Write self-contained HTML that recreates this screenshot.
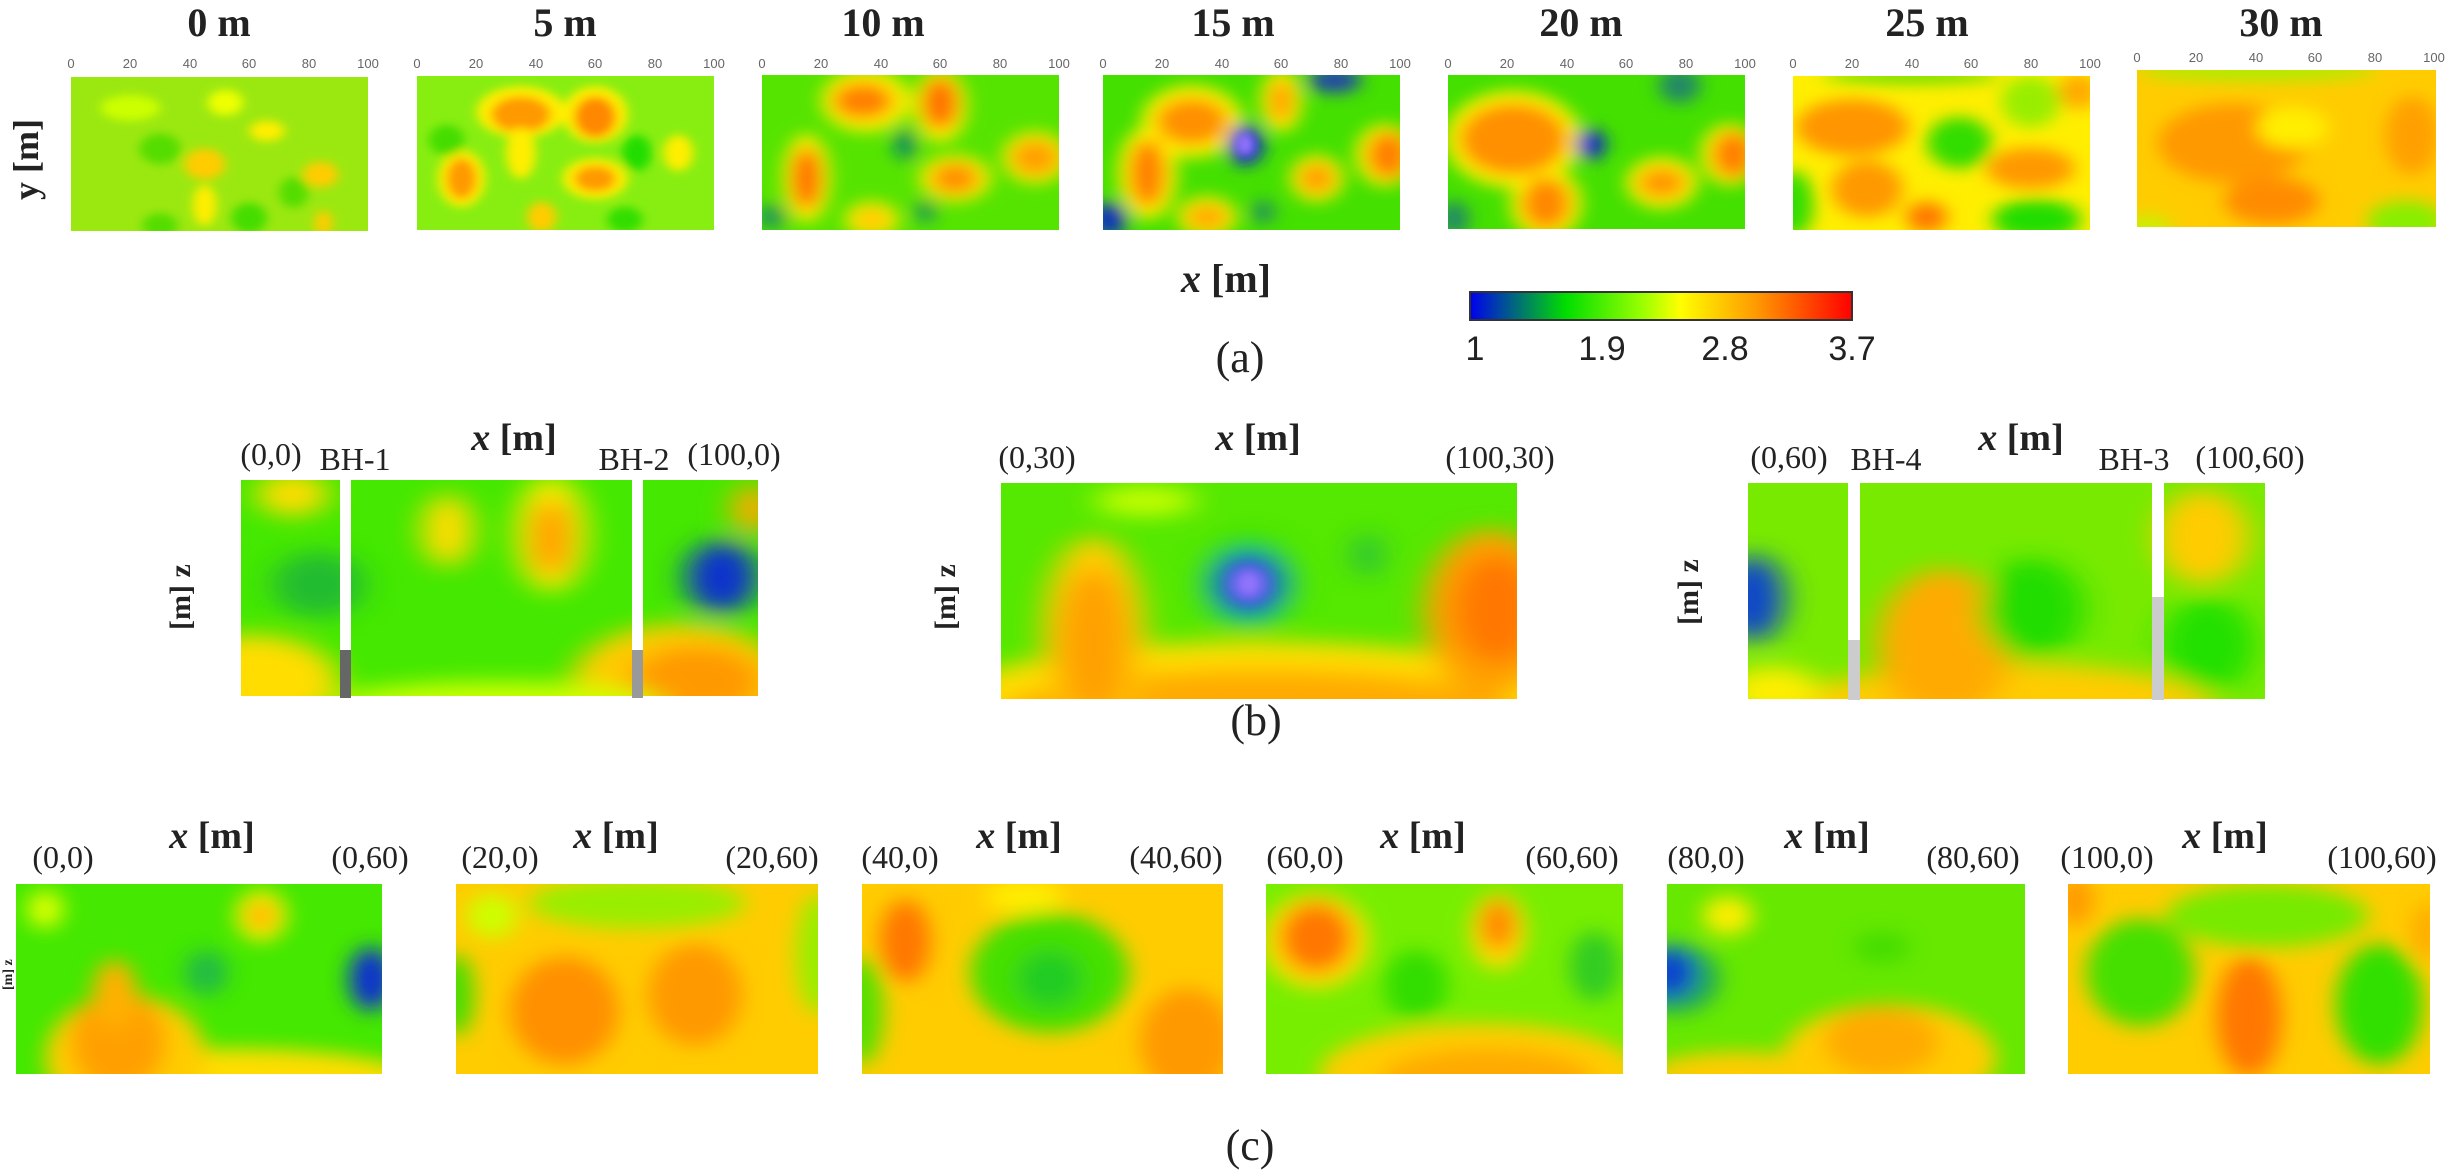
<!DOCTYPE html>
<html><head><meta charset="utf-8"><style>
html,body{margin:0;padding:0;background:#fff;}
svg{display:block;}
.t{font-family:"Liberation Serif",serif;fill:#222;}
.tk{font-family:"Liberation Sans",sans-serif;font-size:13px;fill:#666;text-anchor:middle;}
</style></head><body>
<svg width="2464" height="1176" viewBox="0 0 2464 1176" xmlns="http://www.w3.org/2000/svg">
<defs>
<filter id="b" x="-30%" y="-30%" width="160%" height="160%"><feGaussianBlur stdDeviation="3"/></filter>
<filter id="s" x="-30%" y="-30%" width="160%" height="160%"><feGaussianBlur stdDeviation="1.8"/></filter>
<linearGradient id="cb" x1="0" x2="1" y1="0" y2="0">
<stop offset="0" stop-color="#0000ee"/><stop offset="0.25" stop-color="#00dd00"/><stop offset="0.45" stop-color="#99ff00"/><stop offset="0.55" stop-color="#ffff00"/><stop offset="0.75" stop-color="#ff9900"/><stop offset="1" stop-color="#ff0000"/></linearGradient>
</defs>

<g class="t" font-size="40" text-anchor="middle" font-weight="bold">
<text x="219" y="36">0 m</text><text x="565" y="36">5 m</text><text x="883" y="36">10 m</text><text x="1233" y="36">15 m</text><text x="1581" y="36">20 m</text><text x="1927" y="36">25 m</text><text x="2281" y="36">30 m</text>
</g>
<text class="t" font-size="36" font-weight="bold" transform="translate(38,200) rotate(-90)">y [m]</text>

<g class="tk">
<text x="71" y="68">0</text><text x="130" y="68">20</text><text x="190" y="68">40</text><text x="249" y="68">60</text><text x="309" y="68">80</text><text x="368" y="68">100</text>
<text x="417" y="68">0</text><text x="476" y="68">20</text><text x="536" y="68">40</text><text x="595" y="68">60</text><text x="655" y="68">80</text><text x="714" y="68">100</text>
<text x="762" y="68">0</text><text x="821" y="68">20</text><text x="881" y="68">40</text><text x="940" y="68">60</text><text x="1000" y="68">80</text><text x="1059" y="68">100</text>
<text x="1103" y="68">0</text><text x="1162" y="68">20</text><text x="1222" y="68">40</text><text x="1281" y="68">60</text><text x="1341" y="68">80</text><text x="1400" y="68">100</text>
<text x="1448" y="68">0</text><text x="1507" y="68">20</text><text x="1567" y="68">40</text><text x="1626" y="68">60</text><text x="1686" y="68">80</text><text x="1745" y="68">100</text>
<text x="1793" y="68">0</text><text x="1852" y="68">20</text><text x="1912" y="68">40</text><text x="1971" y="68">60</text><text x="2031" y="68">80</text><text x="2090" y="68">100</text>
<text x="2137" y="62">0</text><text x="2196" y="62">20</text><text x="2256" y="62">40</text><text x="2315" y="62">60</text><text x="2375" y="62">80</text><text x="2434" y="62">100</text>
</g>

<!-- 0m -->
<svg x="71" y="77" width="297" height="154" viewBox="0 0 100 60" preserveAspectRatio="none">
<rect width="100" height="60" fill="#9be810"/><g filter="url(#s)">
<ellipse cx="20" cy="12" rx="10" ry="5" fill="#ccff00"/><ellipse cx="45" cy="34" rx="7" ry="6" fill="#ffcc00"/><ellipse cx="84" cy="38" rx="6" ry="5" fill="#ffcc00"/><ellipse cx="66" cy="21" rx="6" ry="4" fill="#ffee00"/><ellipse cx="45" cy="50" rx="4" ry="8" fill="#ffee00"/><ellipse cx="30" cy="28" rx="7" ry="6" fill="#55dd00"/><ellipse cx="60" cy="55" rx="6" ry="6" fill="#44dd00"/><ellipse cx="30" cy="58" rx="6" ry="5" fill="#55dd00"/><ellipse cx="52" cy="10" rx="6" ry="5" fill="#eeff00"/><ellipse cx="85" cy="57" rx="3" ry="5" fill="#ffcc00"/><ellipse cx="75" cy="45" rx="5" ry="6" fill="#55dd00"/></g></svg>
<!-- 5m -->
<svg x="417" y="76" width="297" height="154" viewBox="0 0 100 60" preserveAspectRatio="none">
<rect width="100" height="60" fill="#88ee11"/><g filter="url(#s)">
<ellipse cx="35" cy="14" rx="15" ry="10" fill="#ffee00"/><ellipse cx="60" cy="15" rx="11" ry="11" fill="#ffee00"/><ellipse cx="35" cy="15" rx="10" ry="7" fill="#ff9900"/><ellipse cx="60" cy="16" rx="7" ry="8" fill="#ff8800"/><ellipse cx="15" cy="40" rx="8" ry="11" fill="#ffee00"/><ellipse cx="15" cy="40" rx="5" ry="8" fill="#ff9900"/><ellipse cx="60" cy="40" rx="11" ry="8" fill="#ffee00"/><ellipse cx="60" cy="40" rx="7" ry="5" fill="#ff9900"/><ellipse cx="42" cy="55" rx="5" ry="6" fill="#ffcc00"/><ellipse cx="35" cy="30" rx="5" ry="10" fill="#ffee00"/><ellipse cx="88" cy="30" rx="5" ry="7" fill="#ffee00"/><ellipse cx="74" cy="30" rx="5" ry="7" fill="#22dd00"/><ellipse cx="10" cy="25" rx="6" ry="6" fill="#44dd00"/><ellipse cx="70" cy="56" rx="6" ry="5" fill="#33dd00"/></g></svg>
<!-- 10m -->
<svg x="762" y="75" width="297" height="155" viewBox="0 0 100 60" preserveAspectRatio="none">
<rect width="100" height="60" fill="#55e400"/><g filter="url(#b)">
<ellipse cx="35" cy="10" rx="15" ry="12" fill="#ffee00"/><ellipse cx="60" cy="12" rx="9" ry="14" fill="#ffee00"/><ellipse cx="15" cy="40" rx="8" ry="17" fill="#ffee00"/><ellipse cx="65" cy="40" rx="12" ry="9" fill="#ffee00"/><ellipse cx="92" cy="32" rx="11" ry="10" fill="#ffee00"/><ellipse cx="37" cy="56" rx="9" ry="7" fill="#ffee00"/>
<ellipse cx="34" cy="10" rx="10" ry="7" fill="#ff8000"/><ellipse cx="60" cy="11" rx="6" ry="10" fill="#ff7000"/><ellipse cx="15" cy="40" rx="5" ry="12" fill="#ff7000"/><ellipse cx="65" cy="40" rx="8" ry="6" fill="#ff9000"/><ellipse cx="92" cy="32" rx="8" ry="7" fill="#ffa000"/><ellipse cx="37" cy="56" rx="6" ry="5" fill="#ffcc00"/>
<ellipse cx="48" cy="27" rx="3.5" ry="6" fill="#118866"/><ellipse cx="55" cy="53" rx="3.5" ry="4.5" fill="#229955"/><ellipse cx="3" cy="55" rx="5" ry="5" fill="#229955"/></g></svg>
<!-- 15m -->
<svg x="1103" y="75" width="297" height="155" viewBox="0 0 100 60" preserveAspectRatio="none">
<rect width="100" height="60" fill="#44e000"/><g filter="url(#b)">
<ellipse cx="30" cy="18" rx="17" ry="14" fill="#ffee00"/><ellipse cx="15" cy="38" rx="10" ry="18" fill="#ffee00"/><ellipse cx="35" cy="55" rx="10" ry="8" fill="#ffee00"/><ellipse cx="60" cy="10" rx="7" ry="12" fill="#ffee00"/><ellipse cx="72" cy="40" rx="9" ry="9" fill="#ffee00"/><ellipse cx="95" cy="31" rx="10" ry="12" fill="#ffee00"/>
<ellipse cx="30" cy="18" rx="12" ry="9" fill="#ff9000"/><ellipse cx="15" cy="38" rx="6" ry="13" fill="#ff8000"/><ellipse cx="35" cy="55" rx="7" ry="5" fill="#ffaa00"/><ellipse cx="60" cy="10" rx="4" ry="8" fill="#ffa000"/><ellipse cx="72" cy="40" rx="6" ry="6" fill="#ffa000"/><ellipse cx="96" cy="31" rx="7" ry="9" fill="#ff8000"/>
<ellipse cx="48" cy="27" rx="6" ry="8" fill="#1122cc"/><ellipse cx="2" cy="56" rx="6" ry="7" fill="#1133bb"/><ellipse cx="78" cy="2" rx="9" ry="5" fill="#2244aa"/><ellipse cx="54" cy="53" rx="3.5" ry="4.5" fill="#228866"/></g>
<ellipse cx="48" cy="27" rx="3" ry="4.5" fill="#9977ff" filter="url(#s)"/></svg>
<!-- 20m -->
<svg x="1448" y="75" width="297" height="154" viewBox="0 0 100 60" preserveAspectRatio="none">
<rect width="100" height="60" fill="#44e000"/><g filter="url(#b)">
<ellipse cx="22" cy="25" rx="23" ry="19" fill="#ffee00"/><ellipse cx="33" cy="50" rx="12" ry="14" fill="#ffee00"/><ellipse cx="72" cy="42" rx="12" ry="10" fill="#ffee00"/><ellipse cx="95" cy="31" rx="10" ry="12" fill="#ffee00"/>
<ellipse cx="22" cy="25" rx="18" ry="14" fill="#ff9000"/><ellipse cx="33" cy="50" rx="8" ry="10" fill="#ff8800"/><ellipse cx="72" cy="42" rx="8" ry="6" fill="#ff9900"/><ellipse cx="96" cy="31" rx="7" ry="9" fill="#ff8000"/>
<ellipse cx="48" cy="27" rx="5" ry="6" fill="#1122cc"/><ellipse cx="78" cy="4" rx="7" ry="7" fill="#228866"/><ellipse cx="2" cy="56" rx="5" ry="7" fill="#228866"/></g></svg>
<!-- 25m -->
<svg x="1793" y="76" width="297" height="154" viewBox="0 0 100 60" preserveAspectRatio="none">
<rect width="100" height="60" fill="#ffee00"/><g filter="url(#b)">
<ellipse cx="20" cy="20" rx="19" ry="11" fill="#ff9500"/><ellipse cx="25" cy="44" rx="12" ry="11" fill="#ff9900"/><ellipse cx="45" cy="55" rx="7" ry="6" fill="#ff7700"/><ellipse cx="80" cy="36" rx="15" ry="8" fill="#ff9900"/><ellipse cx="96" cy="6" rx="7" ry="7" fill="#ffaa00"/>
<ellipse cx="56" cy="26" rx="11" ry="10" fill="#33dd00"/><ellipse cx="80" cy="10" rx="10" ry="10" fill="#99ee00"/><ellipse cx="40" cy="0" rx="30" ry="3" fill="#66e000"/><ellipse cx="82" cy="56" rx="15" ry="8" fill="#22dd00"/><ellipse cx="0" cy="50" rx="7" ry="13" fill="#33dd00"/></g></svg>
<!-- 30m -->
<svg x="2137" y="70" width="299" height="157" viewBox="0 0 100 60" preserveAspectRatio="none">
<rect width="100" height="60" fill="#ffcc00"/><g filter="url(#b)">
<ellipse cx="32" cy="28" rx="25" ry="15" fill="#ff9900"/><ellipse cx="45" cy="50" rx="16" ry="9" fill="#ff8c00"/><ellipse cx="92" cy="25" rx="9" ry="15" fill="#ffa000"/><ellipse cx="52" cy="22" rx="12" ry="8" fill="#ffee00"/>
<ellipse cx="40" cy="0" rx="40" ry="4" fill="#aaee00"/><ellipse cx="3" cy="62" rx="9" ry="7" fill="#ccee00"/><ellipse cx="90" cy="58" rx="13" ry="8" fill="#88ee00"/></g></svg>

<text class="t" x="1226" y="292" font-size="40" font-weight="bold" text-anchor="middle"><tspan font-style="italic">x</tspan> [m]</text>
<rect x="1470" y="292" width="382" height="28" fill="url(#cb)" stroke="#333" stroke-width="2"/>
<g font-family="Liberation Sans,sans-serif" font-size="34" fill="#222" text-anchor="middle">
<text x="1475" y="360">1</text><text x="1602" y="360">1.9</text><text x="1725" y="360">2.8</text><text x="1852" y="360">3.7</text></g>
<text class="t" x="1240" y="372" font-size="44" text-anchor="middle">(a)</text>

<!-- Row (b) -->
<g class="t" font-size="32" text-anchor="middle">
<text x="271" y="465">(0,0)</text><text x="355" y="470">BH-1</text><text x="634" y="470">BH-2</text><text x="734" y="465">(100,0)</text>
<text x="1037" y="468">(0,30)</text><text x="1500" y="468">(100,30)</text>
<text x="1789" y="468">(0,60)</text><text x="1886" y="470">BH-4</text><text x="2134" y="470">BH-3</text><text x="2250" y="468">(100,60)</text>
</g>
<g class="t" font-size="38" font-weight="bold" text-anchor="middle">
<text x="514" y="450"><tspan font-style="italic">x</tspan> [m]</text><text x="1258" y="450"><tspan font-style="italic">x</tspan> [m]</text><text x="2021" y="450"><tspan font-style="italic">x</tspan> [m]</text></g>
<g class="t" font-size="30" font-weight="bold">
<text transform="translate(190,630) rotate(-90)">[m] z</text><text transform="translate(955,630) rotate(-90)">[m] z</text><text transform="translate(1698,625) rotate(-90)">[m] z</text></g>

<svg x="241" y="480" width="517" height="216" viewBox="0 0 100 60" preserveAspectRatio="none">
<rect width="100" height="60" fill="#44e800"/><g filter="url(#b)">
<ellipse cx="2" cy="56" rx="17" ry="13" fill="#ffdd00"/><ellipse cx="85" cy="56" rx="21" ry="16" fill="#ffcc00"/><ellipse cx="88" cy="56" rx="13" ry="10" fill="#ff9900"/><ellipse cx="50" cy="62" rx="32" ry="6" fill="#ccff00"/>
<ellipse cx="60" cy="15" rx="7" ry="16" fill="#ffee00"/><ellipse cx="60" cy="16" rx="4" ry="11" fill="#ff9900"/><ellipse cx="40" cy="14" rx="5" ry="10" fill="#ffdd00"/>
<ellipse cx="93" cy="27" rx="7" ry="10" fill="#1133cc"/><ellipse cx="15" cy="29" rx="9" ry="9" fill="#22bb33"/><ellipse cx="10" cy="4" rx="7" ry="6" fill="#ffdd00"/><ellipse cx="99" cy="8" rx="4" ry="7" fill="#ffaa00"/></g></svg>
<rect x="340" y="478" width="11" height="220" fill="#fff"/><rect x="340" y="650" width="11" height="48" fill="#666"/>
<rect x="632" y="478" width="11" height="220" fill="#fff"/><rect x="632" y="650" width="11" height="48" fill="#999"/>

<svg x="1001" y="483" width="516" height="216" viewBox="0 0 100 60" preserveAspectRatio="none">
<rect width="100" height="60" fill="#55e800"/><g filter="url(#b)">
<ellipse cx="50" cy="62" rx="62" ry="18" fill="#ffdd00"/><ellipse cx="50" cy="64" rx="50" ry="12" fill="#ffaa00"/><ellipse cx="18" cy="42" rx="10" ry="27" fill="#ffcc00"/><ellipse cx="18" cy="45" rx="7" ry="21" fill="#ffa000"/><ellipse cx="95" cy="36" rx="13" ry="23" fill="#ffa000"/><ellipse cx="96" cy="35" rx="8" ry="15" fill="#ff7700"/>
<ellipse cx="48" cy="28" rx="10" ry="14" fill="#33dd00"/><ellipse cx="48" cy="28" rx="7" ry="9" fill="#1133cc"/><ellipse cx="71" cy="20" rx="2.5" ry="6" fill="#22bb44"/><ellipse cx="28" cy="5" rx="10" ry="4" fill="#ccff00"/></g>
<ellipse cx="48" cy="28" rx="3.5" ry="5" fill="#9977ff" filter="url(#s)"/></svg>

<svg x="1748" y="483" width="517" height="216" viewBox="0 0 100 60" preserveAspectRatio="none">
<rect width="100" height="60" fill="#77ea00"/><g filter="url(#b)">
<ellipse cx="50" cy="62" rx="40" ry="12" fill="#ffcc00"/><ellipse cx="38" cy="45" rx="13" ry="21" fill="#ffaa00"/><ellipse cx="55" cy="35" rx="10" ry="14" fill="#22dd00"/><ellipse cx="1" cy="32" rx="6" ry="12" fill="#1144cc"/>
<ellipse cx="88" cy="15" rx="9" ry="13" fill="#ffcc00"/><ellipse cx="89" cy="45" rx="9" ry="13" fill="#22e000"/><ellipse cx="5" cy="58" rx="9" ry="7" fill="#ffee00"/></g></svg>
<rect x="1848" y="481" width="12" height="220" fill="#fff"/><rect x="1848" y="640" width="12" height="60" fill="#ccc"/>
<rect x="2152" y="481" width="12" height="220" fill="#fff"/><rect x="2152" y="597" width="12" height="103" fill="#ccc"/>
<text class="t" x="1256" y="735" font-size="44" text-anchor="middle">(b)</text>

<!-- Row (c) -->
<g class="t" font-size="32" text-anchor="middle">
<text x="63" y="868">(0,0)</text><text x="370" y="868">(0,60)</text>
<text x="500" y="868">(20,0)</text><text x="772" y="868">(20,60)</text>
<text x="900" y="868">(40,0)</text><text x="1176" y="868">(40,60)</text>
<text x="1305" y="868">(60,0)</text><text x="1572" y="868">(60,60)</text>
<text x="1706" y="868">(80,0)</text><text x="1973" y="868">(80,60)</text>
<text x="2107" y="868">(100,0)</text><text x="2382" y="868">(100,60)</text></g>
<g class="t" font-size="38" font-weight="bold" text-anchor="middle">
<text x="212" y="848"><tspan font-style="italic">x</tspan> [m]</text><text x="616" y="848"><tspan font-style="italic">x</tspan> [m]</text><text x="1019" y="848"><tspan font-style="italic">x</tspan> [m]</text><text x="1423" y="848"><tspan font-style="italic">x</tspan> [m]</text><text x="1827" y="848"><tspan font-style="italic">x</tspan> [m]</text><text x="2225" y="848"><tspan font-style="italic">x</tspan> [m]</text></g>
<text class="t" font-size="14" font-weight="bold" transform="translate(12,990) rotate(-90)">[m] z</text>

<svg x="16" y="884" width="366" height="190" viewBox="0 0 100 60" preserveAspectRatio="none">
<rect width="100" height="60" fill="#44e800"/><g filter="url(#b)">
<ellipse cx="60" cy="62" rx="50" ry="10" fill="#ffdd00"/><ellipse cx="30" cy="55" rx="22" ry="20" fill="#ffcc00"/><ellipse cx="28" cy="50" rx="13" ry="16" fill="#ffa000"/><ellipse cx="27" cy="35" rx="6" ry="11" fill="#ffb000"/>
<ellipse cx="97" cy="30" rx="6" ry="10" fill="#1133cc"/><ellipse cx="52" cy="28" rx="6" ry="7" fill="#22bb44"/><ellipse cx="67" cy="10" rx="7" ry="8" fill="#ffee00"/><ellipse cx="67" cy="10" rx="4" ry="4" fill="#ffaa00"/><ellipse cx="8" cy="8" rx="5" ry="6" fill="#ddff00"/></g></svg>
<svg x="456" y="884" width="362" height="190" viewBox="0 0 100 60" preserveAspectRatio="none">
<rect width="100" height="60" fill="#ffcc00"/><g filter="url(#b)">
<ellipse cx="30" cy="40" rx="15" ry="17" fill="#ff9000"/><ellipse cx="66" cy="35" rx="13" ry="16" fill="#ff9900"/><ellipse cx="50" cy="6" rx="30" ry="8" fill="#99ee00"/><ellipse cx="0" cy="35" rx="5" ry="13" fill="#44dd00"/><ellipse cx="100" cy="22" rx="6" ry="19" fill="#99ee00"/><ellipse cx="10" cy="10" rx="7" ry="7" fill="#ccff00"/></g></svg>
<svg x="862" y="884" width="361" height="190" viewBox="0 0 100 60" preserveAspectRatio="none">
<rect width="100" height="60" fill="#ffcc00"/><g filter="url(#b)">
<ellipse cx="52" cy="28" rx="22" ry="19" fill="#44e000"/><ellipse cx="52" cy="30" rx="9" ry="9" fill="#22cc22"/><ellipse cx="12" cy="18" rx="7" ry="13" fill="#ff7700"/><ellipse cx="90" cy="50" rx="13" ry="17" fill="#ff9900"/><ellipse cx="0" cy="40" rx="6" ry="17" fill="#55e000"/><ellipse cx="45" cy="4" rx="11" ry="5" fill="#ffee00"/></g></svg>
<svg x="1266" y="884" width="357" height="190" viewBox="0 0 100 60" preserveAspectRatio="none">
<rect width="100" height="60" fill="#77ee00"/><g filter="url(#b)">
<ellipse cx="60" cy="60" rx="45" ry="16" fill="#ffcc00"/><ellipse cx="62" cy="62" rx="30" ry="10" fill="#ffaa00"/><ellipse cx="14" cy="18" rx="15" ry="15" fill="#ffdd00"/><ellipse cx="14" cy="17" rx="10" ry="11" fill="#ff7700"/><ellipse cx="65" cy="15" rx="8" ry="12" fill="#ffdd00"/><ellipse cx="65" cy="13" rx="5" ry="8" fill="#ff8800"/>
<ellipse cx="42" cy="32" rx="9" ry="11" fill="#33dd00"/><ellipse cx="92" cy="26" rx="7" ry="11" fill="#33cc22"/></g></svg>
<svg x="1667" y="884" width="358" height="190" viewBox="0 0 100 60" preserveAspectRatio="none">
<rect width="100" height="60" fill="#66e800"/><g filter="url(#b)">
<ellipse cx="62" cy="55" rx="30" ry="17" fill="#ffcc00"/><ellipse cx="60" cy="50" rx="16" ry="11" fill="#ffaa00"/><ellipse cx="20" cy="60" rx="25" ry="7" fill="#ffcc00"/><ellipse cx="2" cy="30" rx="13" ry="11" fill="#22aa55"/><ellipse cx="1" cy="28" rx="7" ry="8" fill="#1144cc"/><ellipse cx="17" cy="10" rx="7" ry="6" fill="#ffee00"/><ellipse cx="60" cy="20" rx="8" ry="5" fill="#44dd00"/></g></svg>
<svg x="2068" y="884" width="362" height="190" viewBox="0 0 100 60" preserveAspectRatio="none">
<rect width="100" height="60" fill="#ffcc00"/><g filter="url(#b)">
<ellipse cx="20" cy="28" rx="15" ry="17" fill="#44e000"/><ellipse cx="86" cy="38" rx="12" ry="19" fill="#33e000"/><ellipse cx="55" cy="10" rx="28" ry="10" fill="#77ea00"/><ellipse cx="50" cy="42" rx="9" ry="19" fill="#ff7700"/><ellipse cx="2" cy="5" rx="5" ry="8" fill="#ff9900"/><ellipse cx="99" cy="15" rx="4" ry="9" fill="#ffaa00"/></g></svg>
<text class="t" x="1250" y="1160" font-size="44" text-anchor="middle">(c)</text>
</svg>
</body></html>
